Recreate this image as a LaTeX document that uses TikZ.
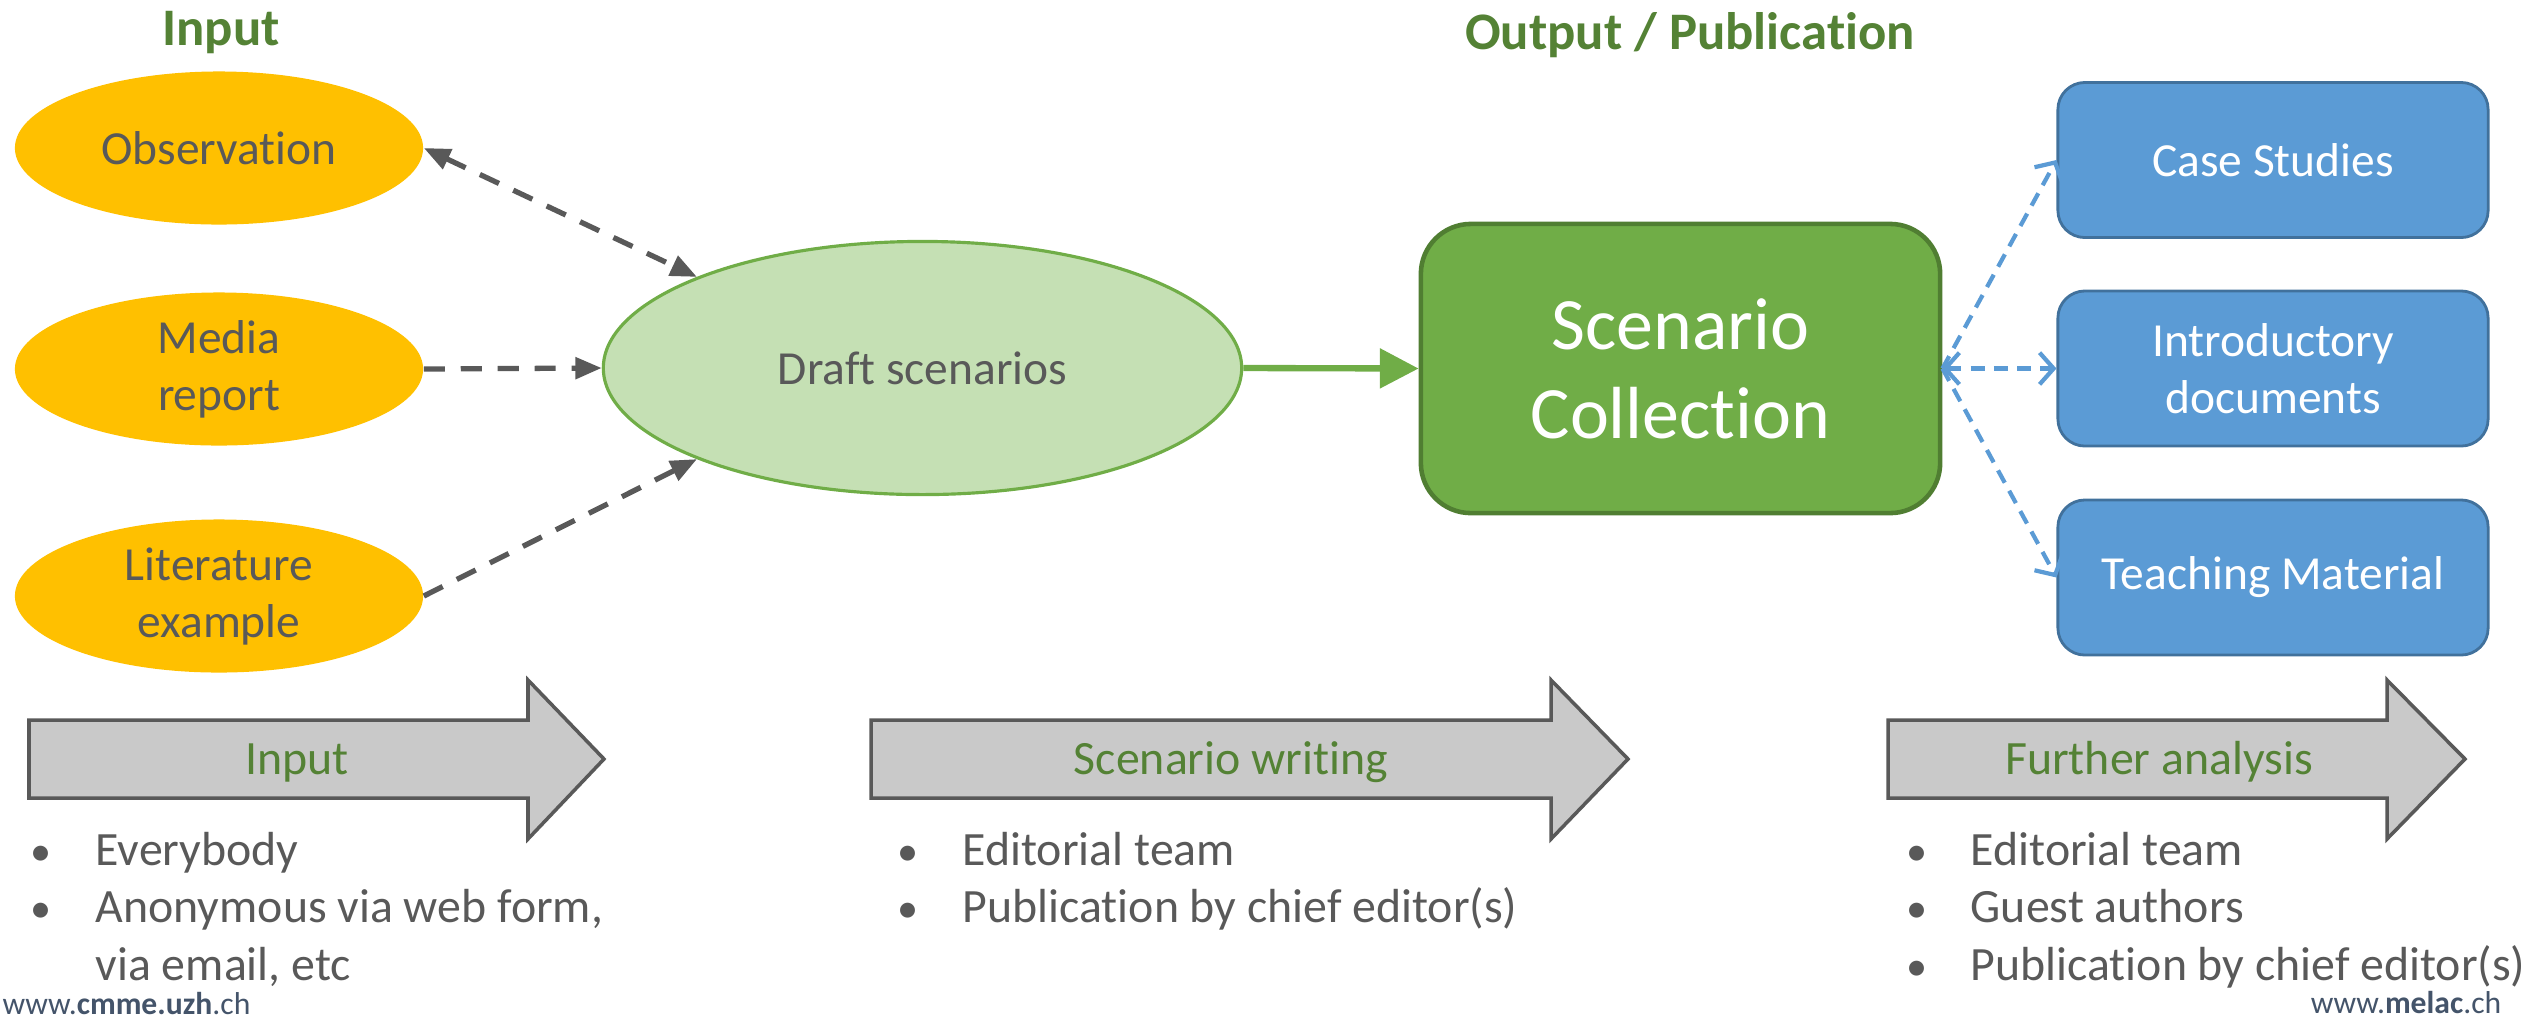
\documentclass[tikz,border=0pt]{standalone}
\usepackage{fontspec}
\setmainfont{Carlito}[Ligatures={NoCommon,NoContextual}]
\usetikzlibrary{arrows.meta,shapes.geometric,positioning}
\definecolor{ochre}{HTML}{FFC000}
\definecolor{textgray}{HTML}{595959}
\definecolor{leafgreen}{HTML}{70AD47}
\definecolor{darkleaf}{HTML}{507E32}
\definecolor{palegreen}{HTML}{C5E0B4}
\definecolor{titlegreen}{HTML}{548235}
\definecolor{skyblue}{HTML}{5B9BD5}
\definecolor{deepblue}{HTML}{41719C}
\definecolor{phasegray}{HTML}{C9C9C9}
\definecolor{slate}{HTML}{44546A}
\begin{document}
\begin{tikzpicture}[x=0.01cm,y=-0.01cm,
    source/.style={ellipse,fill=ochre,minimum width=4.08cm,minimum height=1.53cm,inner sep=0pt,
      align=center,text=textgray,font=\fontsize{13.5}{16.2}\selectfont},
    draft/.style={ellipse,fill=palegreen,draw=leafgreen,line width=0.9pt,minimum width=6.38cm,
      minimum height=2.53cm,inner sep=0pt,text=textgray,font=\fontsize{13.5}{16.2}\selectfont},
    collection/.style={rectangle,rounded corners=0.5cm,fill=leafgreen,draw=darkleaf,line width=1.3pt,
      minimum width=5.19cm,minimum height=2.89cm,align=center,text=white,font=\fontsize{21}{25.3}\selectfont},
    product/.style={rectangle,rounded corners=0.27cm,fill=skyblue,draw=deepblue,line width=0.8pt,
      minimum width=4.3cm,minimum height=1.55cm,align=center,text=white,font=\fontsize{13.5}{16.2}\selectfont},
    flowline/.style={draw=textgray,line width=1.5pt,dash pattern=on 6pt off 4.5pt,
      >={Triangle[length=7.5pt,width=6pt]}},
    feedline/.style={draw=skyblue,line width=1.2pt,dash pattern=on 4pt off 2.6pt,
      >={Straight Barb[length=4pt,width=9pt]}},
    phasearrow/.style={fill=phasegray,draw=textgray,line width=1pt},
    phaselabel/.style={anchor=base,inner sep=0pt,text=titlegreen,font=\fontsize{13.6}{16.4}\selectfont},
    bullettext/.style={anchor=base west,inner sep=0pt,text=textgray,font=\fontsize{13.6}{16.4}\selectfont},
    bulletdot/.style={anchor=base,inner sep=0pt,text=textgray,font=\fontsize{12}{16.4}\selectfont},
    heading/.style={anchor=base,inner sep=0pt,text=titlegreen,font=\fontsize{15}{18}\selectfont\bfseries},
    footer/.style={inner sep=0pt,text=slate,font=\fontsize{9}{11}\selectfont}]
  \useasboundingbox (0,0) rectangle (2524,1017);

  \node[heading] (intitle) at (221,45) {Input};
  \node[heading] (outtitle) at (1690,49) {Output / Publication};

  \node[source] (obs) at (219,148) {Observation};
  \node[source] (media) at (219,369) {Media\\report};
  \node[source] (lit) at (219,596) {Literature\\example};
  \node[draft] (draft) at (922.5,368) {Draft scenarios};
  \node[collection] (coll) at (1680.5,368.5) {Scenario\\Collection};
  \node[product] (case) at (2273,160) {Case Studies};
  \node[product] (intro) at (2273,368.5) {Introductory\\documents};
  \node[product] (teach) at (2273,577.5) {Teaching Material};

  \draw[flowline,<->] (obs.east) -- (draft.158);
  \draw[flowline,->] (media.east) -- (draft.west);
  \draw[flowline,->] (lit.east) -- (draft.202);
  \draw[draw=leafgreen,line width=1.8pt,-{Triangle[length=11pt,width=11pt]}] (draft.east) -- (coll.west);
  \draw[feedline,->] (coll.east) -- (case.west);
  \draw[feedline,<->] (coll.east) -- (intro.west);
  \draw[feedline,->] (coll.east) -- (teach.west);

  \draw[phasearrow] (29,720) -- (528,720) -- (528,680) -- (604,759) -- (528,839) -- (528,798) -- (29,798) -- cycle;
  \draw[phasearrow] (871,720) -- (1551,720) -- (1551,680) -- (1628,759) -- (1551,839) -- (1551,798) -- (871,798) -- cycle;
  \draw[phasearrow] (1888,720) -- (2387,720) -- (2387,680) -- (2465,759) -- (2387,839) -- (2387,798) -- (1888,798) -- cycle;
  \node[phaselabel] (inlabel) at (297,774) {Input};
  \node[phaselabel] (writelabel) at (1231,774) {Scenario writing};
  \node[phaselabel] (furtherlabel) at (2159,774) {Further analysis};

  \node[bulletdot] (ind1) at (41,865) {•};
  \node[bullettext] (in1) at (95,865) {Everybody};
  \node[bulletdot] (ind2) at (41,922) {•};
  \node[bullettext] (in2) at (95,922) {Anonymous via web form,};
  \node[bullettext] (in3) at (95,980) {via email, etc};

  \node[bulletdot] (wrd1) at (908,865) {•};
  \node[bullettext] (wr1) at (962,865) {Editorial team};
  \node[bulletdot] (wrd2) at (908,922) {•};
  \node[bullettext] (wr2) at (962,922) {Publication by chief editor(s)};

  \node[bulletdot] (fud1) at (1917,865) {•};
  \node[bullettext] (fu1) at (1970,865) {Editorial team};
  \node[bulletdot] (fud2) at (1917,922) {•};
  \node[bullettext] (fu2) at (1970,922) {Guest authors};
  \node[bulletdot] (fud3) at (1917,980) {•};
  \node[bullettext] (fu3) at (1970,980) {Publication by chief editor(s)};

  \node[footer,anchor=base west] (cmme) at (2,1014) {www.\textbf{cmme.uzh}.ch};
  \node[footer,anchor=base east] (melac) at (2502,1013) {www.\textbf{melac}.ch};
\end{tikzpicture}
\end{document}
